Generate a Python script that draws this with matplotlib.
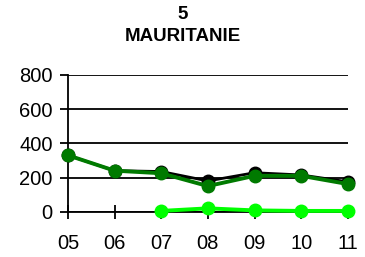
import matplotlib.pyplot as plt

plt.rcParams['font.family'] = ['Liberation Sans', 'DejaVu Sans']

years = ['05', '06', '07', '08', '09', '10', '11']
total = [330, 240, 235, 180, 228, 215, 175]
dark = [330, 240, 225, 150, 210, 210, 162]
light_years = ['07', '08', '09', '10', '11']
light = [5, 20, 8, 5, 5]

fig = plt.figure(figsize=(3.65, 2.57), dpi=100)
ax = fig.add_axes([0.186, 0.176, 0.767, 0.533])

xi = list(range(len(years)))
lxi = [years.index(y) for y in light_years]

ax.plot(xi, total, color='black', lw=2, marker='o', ms=9, zorder=3, clip_on=False)
ax.plot(xi, dark, color='#007A00', lw=2.8, marker='o', ms=9, zorder=4, clip_on=False)
ax.plot(lxi, light, color='#00FF00', lw=2.8, marker='o', ms=9, zorder=5, clip_on=False)

ax.set_xlim(0, 6)
ax.set_ylim(0, 800)
ax.set_yticks([0, 200, 400, 600, 800])
ax.set_xticks(xi)
ax.set_xticklabels(years)
ax.yaxis.grid(True, color='black', lw=1.3)
ax.set_axisbelow(True)
for s in ['top', 'right']:
    ax.spines[s].set_visible(False)
ax.spines['left'].set_linewidth(1.3)
ax.spines['bottom'].set_linewidth(1.3)
ax.tick_params(axis='y', length=6, width=1.3, labelsize=14.5, pad=5)
ax.tick_params(axis='x', direction='inout', length=10, width=1.3, labelsize=14.5, pad=11)

fig.text(0.5, 0.945, '5', ha='center', va='center', fontsize=13.5, fontweight='bold')
fig.text(0.5, 0.858, 'MAURITANIE', ha='center', va='center', fontsize=13.5, fontweight='bold')

fig.savefig('out.png', dpi=100)
